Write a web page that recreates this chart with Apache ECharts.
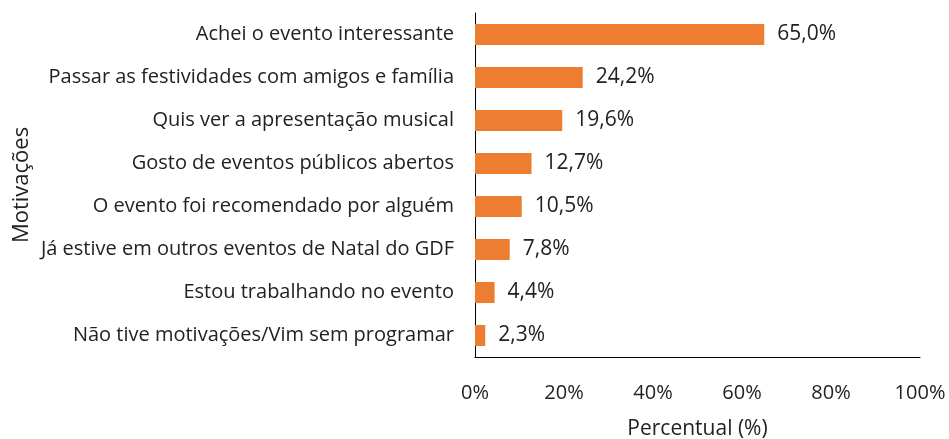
<!DOCTYPE html>
<html>
<head>
<meta charset="utf-8">
<script src="https://cdn.jsdelivr.net/npm/echarts@6/dist/echarts.min.js"></script>
<style>html,body{margin:0;padding:0;background:#fff;}#c{width:949px;height:439px;}</style>
</head>
<body>
<div id="c"></div>
<script>
const categories = [
  "Achei o evento interessante",
  "Passar as festividades com amigos e família",
  "Quis ver a apresentação musical",
  "Gosto de eventos públicos abertos",
  "O evento foi recomendado por alguém",
  "Já estive em outros eventos de Natal do GDF",
  "Estou trabalhando no evento",
  "Não tive motivações/Vim sem programar"
];
const values = [65.0, 24.2, 19.6, 12.7, 10.5, 7.8, 4.4, 2.3];
const xTicks = [0, 20, 40, 60, 80, 100];
const xAxisName = "Percentual (%)";
const yAxisName = "Motivações";

const FONT = "'Open Sans', sans-serif";
const TXT = "#222222";
const chart = echarts.init(document.getElementById('c'));
chart.setOption({
  animation: false,
  grid: { left: 475, right: 29, top: 13, bottom: 82, containLabel: false, outerBoundsMode: 'none' },
  xAxis: {
    type: 'value',
    min: xTicks[0], max: xTicks[xTicks.length - 1], interval: 20,
    name: xAxisName, nameLocation: 'middle', nameGap: 62,
    nameTextStyle: { fontFamily: FONT, fontSize: 21, color: TXT },
    axisLine: { show: true, lineStyle: { color: '#000', width: 1 } },
    axisTick: { show: false },
    splitLine: { show: false },
    axisLabel: { formatter: '{value}%', margin: 26, fontFamily: FONT, fontSize: 20, color: TXT }
  },
  yAxis: {
    type: 'category', inverse: true, data: categories,
    name: yAxisName, nameLocation: 'middle', nameGap: 442, nameRotate: 90,
    nameTextStyle: { fontFamily: FONT, fontSize: 22, color: TXT },
    axisLine: { show: true, lineStyle: { color: '#000', width: 1 } },
    axisTick: { show: false },
    axisLabel: { margin: 21, fontFamily: FONT, fontSize: 20, color: TXT }
  },
  series: [{
    type: 'bar', data: values, barWidth: '49%',
    itemStyle: { color: '#ED7D31' },
    label: {
      show: true, position: 'right', distance: 13,
      fontFamily: FONT, fontSize: 21, color: TXT,
      formatter: p => p.value.toFixed(1).replace('.', ',') + '%'
    }
  }]
});
</script>
</body>
</html>
